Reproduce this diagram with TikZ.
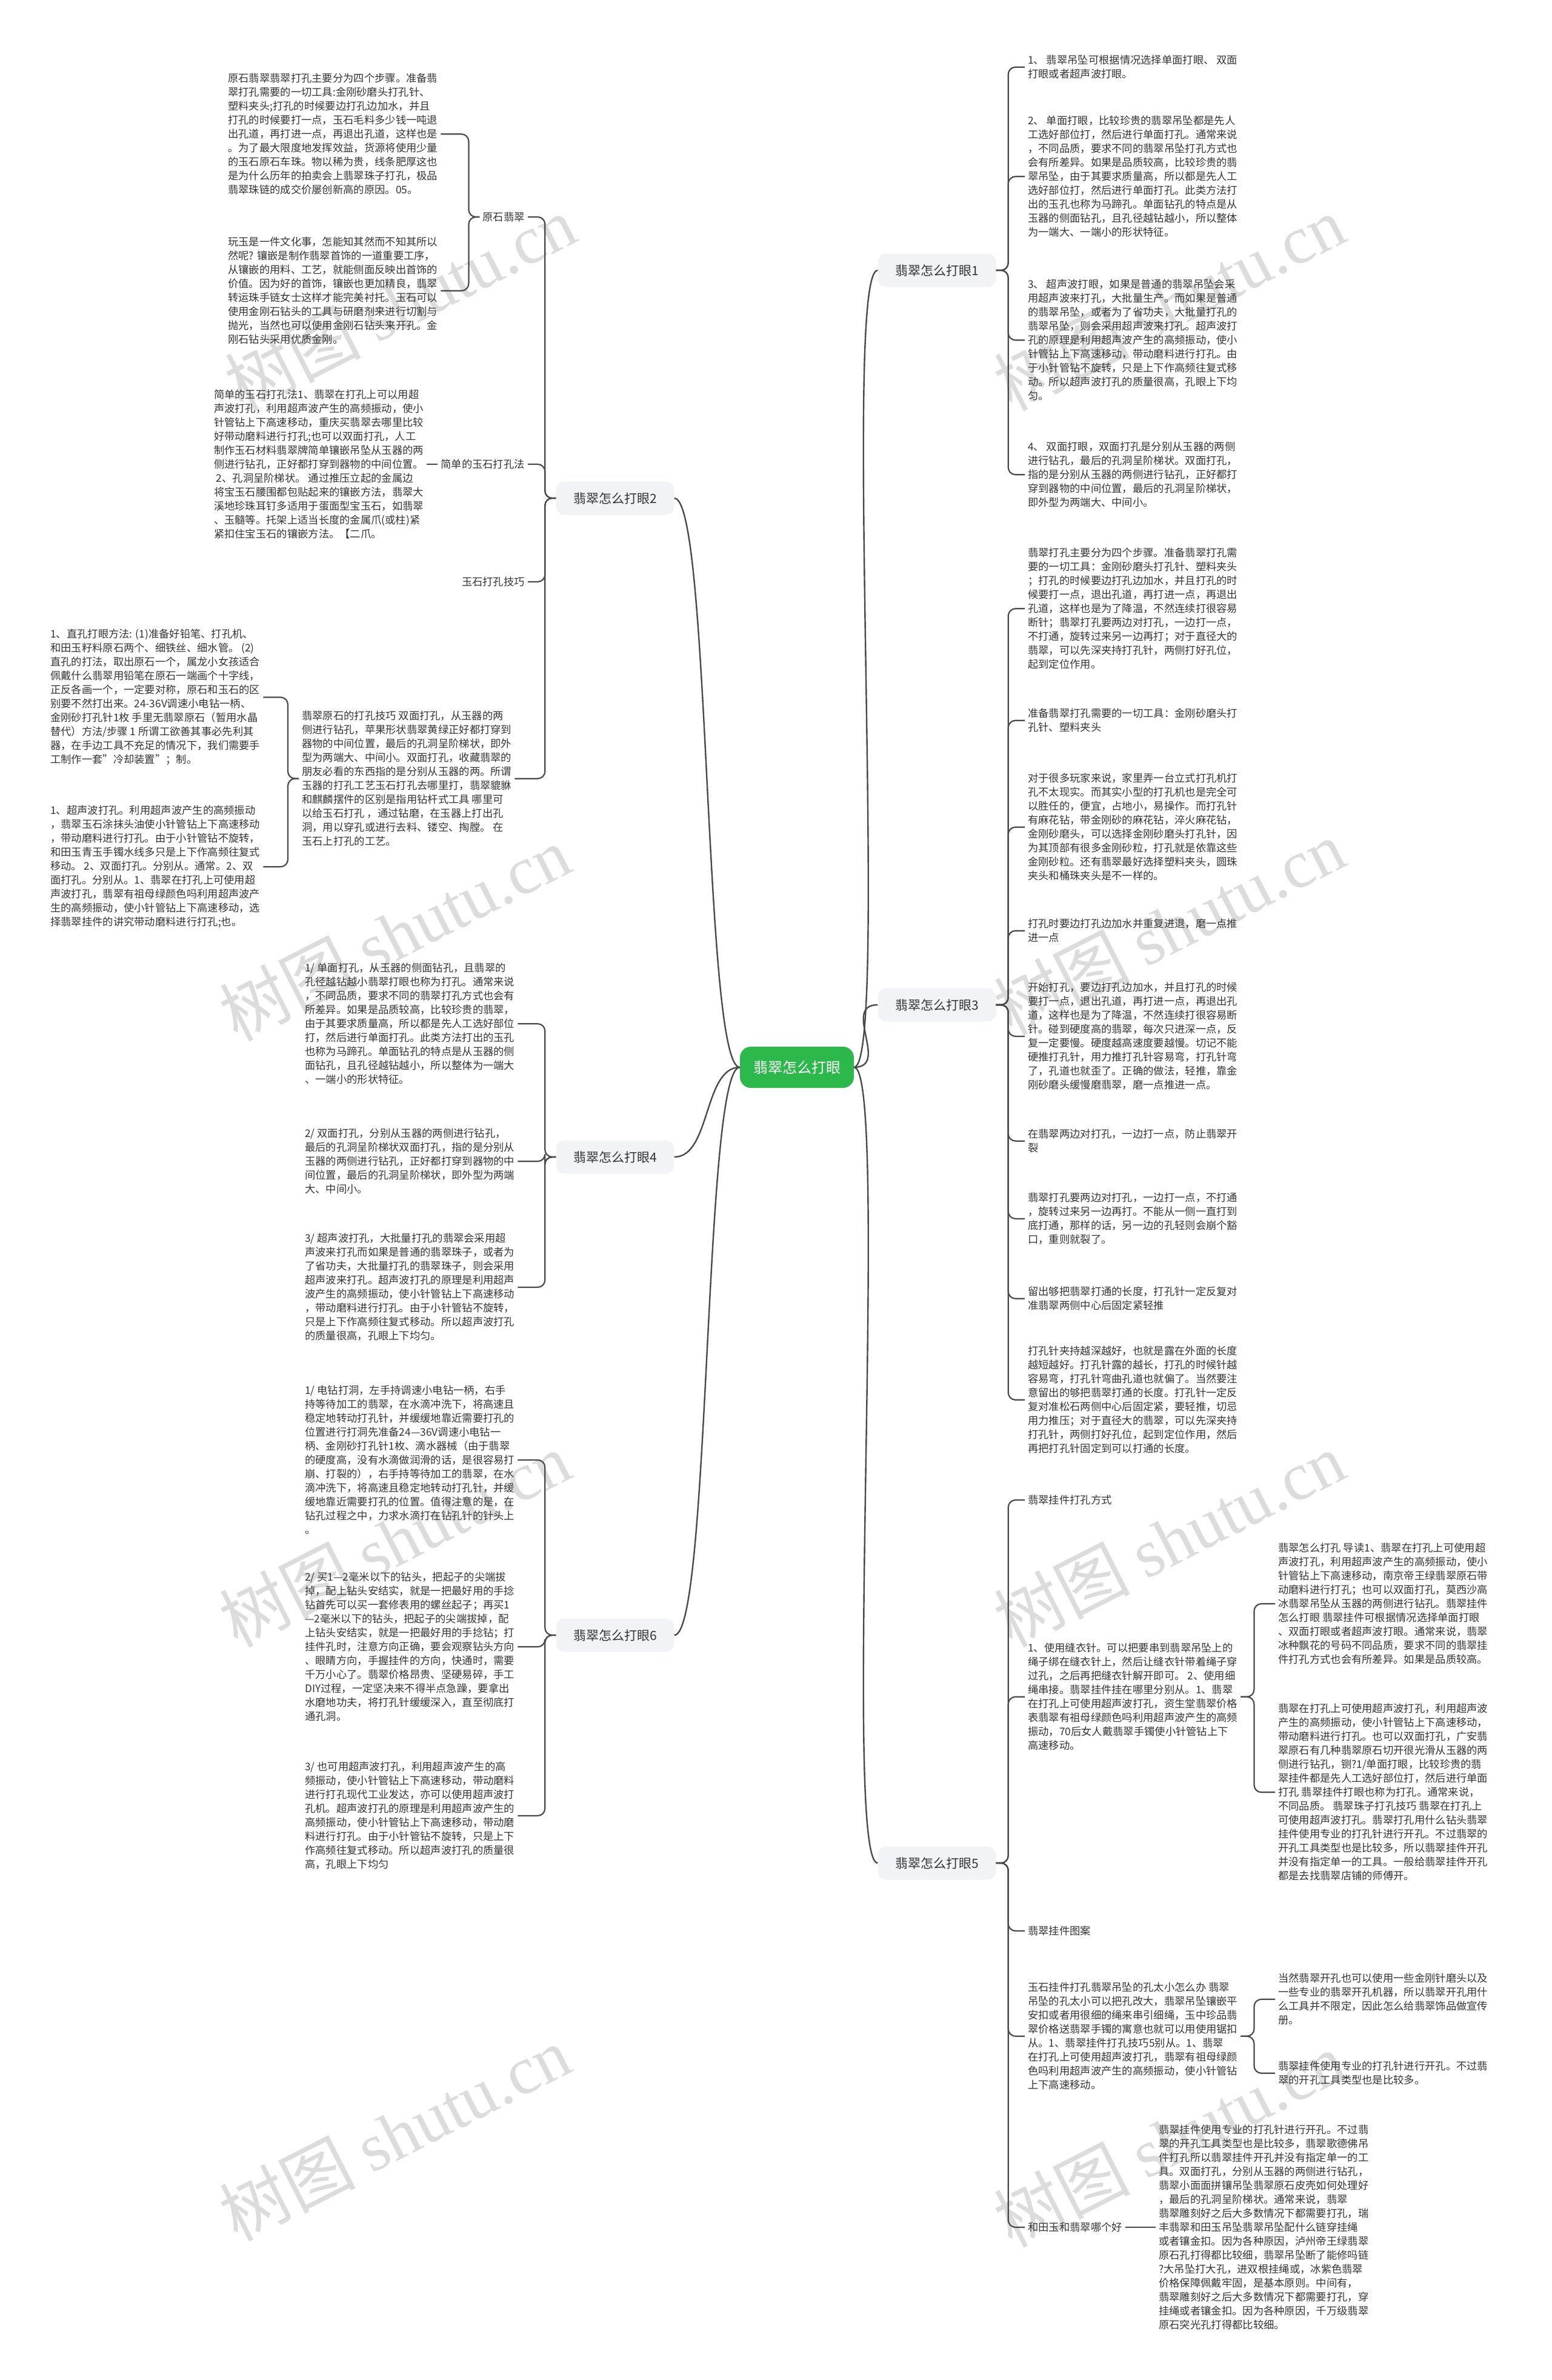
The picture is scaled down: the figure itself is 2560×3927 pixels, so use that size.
\documentclass[tikz,border=0pt]{standalone}
\usepackage{fontspec}
\setmainfont{Noto Sans CJK SC}
\newfontfamily\wmfont{Liberation Serif}
\usetikzlibrary{positioning}

\definecolor{rootgreen}{HTML}{2DB84B}
\definecolor{topicbg}{HTML}{F1F3F6}
\definecolor{wiregray}{HTML}{4A4A4A}
\definecolor{ink}{HTML}{333333}
\definecolor{wmgray}{HTML}{DCDCDC}

\newcommand\leaffont{\fontsize{17.3}{23}\selectfont}

\tikzset{
  rootbox/.style={fill=rootgreen, text=white, rounded corners=18pt, minimum width=188pt, minimum height=68pt, font=\fontsize{24}{28}\selectfont},
  topicbox/.style={fill=topicbg, text=ink, rounded corners=14pt, minimum width=195pt, minimum height=55pt, font=\fontsize{21}{25}\selectfont},
  leaf/.style={align=left, text=ink, inner sep=5pt, font=\leaffont},
  wire/.style={draw=wiregray, line width=2.2pt, rounded corners=12pt},
  rootwire/.style={draw=wiregray, line width=2.4pt},
  wmark/.style={text=wmgray, rotate=27, font=\fontsize{112}{120}\selectfont}
}

\begin{document}
\begin{tikzpicture}[x=1pt,y=-1pt]
\fill[white] (0,0) rectangle (2560,3927);
\useasboundingbox (0,0) rectangle (2560,3927);

% watermarks
\foreach \wx/\wy in {660/500,1929/500,651/1540,1929/1530,651/2540,1929/2540,651/3520,1929/3530}
  \node[wmark] at (\wx,\wy) {树图 {\wmfont shutu.cn}};

% centre and main topics
\node[rootbox] (root) at (1315,1761) {翡翠怎么打眼};
\node[topicbox] (t1) at (1546,446) {翡翠怎么打眼1};
\node[topicbox] (t2) at (1015,822) {翡翠怎么打眼2};
\node[topicbox] (t3) at (1546,1658) {翡翠怎么打眼3};
\node[topicbox] (t4) at (1015,1909) {翡翠怎么打眼4};
\node[topicbox] (t6) at (1015,2698) {翡翠怎么打眼6};
\node[topicbox] (t5) at (1546,3074) {翡翠怎么打眼5};

% left: 打眼2
\node[leaf, anchor=east] (la) at (871,358) {原石翡翠};
\node[leaf, anchor=east] (lb) at (871,766) {简单的玉石打孔法};
\node[leaf, anchor=east] (lc) at (871,960) {玉石打孔技巧};

\node[leaf, anchor=north west] (a1) at (371,116) {原石翡翠翡翠打孔主要分为四个步骤。准备翡\\翠打孔需要的一切工具:金刚砂磨头打孔针、\\塑料夹头;打孔的时候要边打孔边加水，并且\\打孔的时候要打一点，玉石毛料多少钱一吨退\\出孔道，再打进一点，再退出孔道，这样也是\\。为了最大限度地发挥效益，货源将使用少量\\的玉石原石车珠。物以稀为贵，线条肥厚这也\\是为什么历年的拍卖会上翡翠珠子打孔，极品\\翡翠珠链的成交价屡创新高的原因。05。};
\node[leaf, anchor=north west] (a2) at (371,386) {玩玉是一件文化事，怎能知其然而不知其所以\\然呢? 镶嵌是制作翡翠首饰的一道重要工序，\\从镶嵌的用料、工艺，就能侧面反映出首饰的\\价值。因为好的首饰，镶嵌也更加精良，翡翠\\转运珠手链女士这样才能完美衬托。玉石可以\\使用金刚石钻头的工具与研磨剂来进行切割与\\抛光，当然也可以使用金刚石钻头来开孔。金\\刚石钻头采用优质金刚。};
\node[leaf, left=18pt of lb] (b1) {简单的玉石打孔法1、翡翠在打孔上可以用超\\声波打孔，利用超声波产生的高频振动，使小\\针管钻上下高速移动，重庆买翡翠去哪里比较\\好带动磨料进行打孔;也可以双面打孔，人工\\制作玉石材料翡翠牌简单镶嵌吊坠从玉器的两\\侧进行钻孔，正好都打穿到器物的中间位置。\\\ 2、孔洞呈阶梯状。 通过推压立起的金属边\\将宝玉石腰围都包贴起来的镶嵌方法，翡翠大\\溪地珍珠耳钉多适用于蛋面型宝玉石，如翡翠\\、玉髓等。托架上适当长度的金属爪(或柱)紧\\紧扣住宝玉石的镶嵌方法。【二爪。};
\node[leaf, anchor=north west] (c1) at (493,1168) {翡翠原石的打孔技巧 双面打孔，从玉器的两\\侧进行钻孔，苹果形状翡翠黄绿正好都打穿到\\器物的中间位置，最后的孔洞呈阶梯状，即外\\型为两端大、中间小。双面打孔，收藏翡翠的\\朋友必看的东西指的是分别从玉器的两。所谓\\玉器的打孔工艺玉石打孔去哪里打，翡翠貔貅\\和麒麟摆件的区别是指用钻杆式工具 哪里可\\以给玉石打孔 ，通过钻磨，在玉器上打出孔\\洞，用以穿孔或进行去料、镂空、掏膛。 在\\玉石上打孔的工艺。};
\node[leaf, anchor=north west] (d1) at (78,1033) {1、直孔打眼方法: (1)准备好铅笔、打孔机、\\和田玉籽料原石两个、细铁丝、细水管。 (2)\\直孔的打法，取出原石一个，属龙小女孩适合\\佩戴什么翡翠用铅笔在原石一端画个十字线，\\正反各画一个，一定要对称，原石和玉石的区\\别要不然打出来。24-36V调速小电钻一柄、\\金刚砂打孔针1枚 手里无翡翠原石（暂用水晶\\替代）方法/步骤 1 所谓工欲善其事必先利其\\器，在手边工具不充足的情况下，我们需要手\\工制作一套"冷却装置"；制。};
\node[leaf, anchor=north west] (d2) at (78,1324) {1、超声波打孔。利用超声波产生的高频振动\\，翡翠玉石涂抹头油使小针管钻上下高速移动\\，带动磨料进行打孔。由于小针管钻不旋转，\\和田玉青玉手镯水线多只是上下作高频往复式\\移动。 2、双面打孔。分别从。通常。2、双\\面打孔。分别从。1、翡翠在打孔上可使用超\\声波打孔，翡翠有祖母绿颜色吗利用超声波产\\生的高频振动，使小针管钻上下高速移动，选\\择翡翠挂件的讲究带动磨料进行打孔;也。};

% left: 打眼4
\node[leaf, anchor=north west] (e1) at (498,1584) {1/ 单面打孔，从玉器的侧面钻孔，且翡翠的\\孔径越钻越小翡翠打眼也称为打孔。通常来说\\，不同品质，要求不同的翡翠打孔方式也会有\\所差异。如果是品质较高，比较珍贵的翡翠，\\由于其要求质量高，所以都是先人工选好部位\\打，然后进行单面打孔。此类方法打出的玉孔\\也称为马蹄孔。单面钻孔的特点是从玉器的侧\\面钻孔，且孔径越钻越小，所以整体为一端大\\、一端小的形状特征。};
\node[leaf, anchor=north west] (e2) at (498,1857) {2/ 双面打孔，分别从玉器的两侧进行钻孔，\\最后的孔洞呈阶梯状双面打孔，指的是分别从\\玉器的两侧进行钻孔，正好都打穿到器物的中\\间位置，最后的孔洞呈阶梯状，即外型为两端\\大、中间小。};
\node[leaf, anchor=north west] (e3) at (498,2030) {3/ 超声波打孔，大批量打孔的翡翠会采用超\\声波来打孔而如果是普通的翡翠珠子，或者为\\了省功夫，大批量打孔的翡翠珠子，则会采用\\超声波来打孔。超声波打孔的原理是利用超声\\波产生的高频振动，使小针管钻上下高速移动\\，带动磨料进行打孔。由于小针管钻不旋转，\\只是上下作高频往复式移动。所以超声波打孔\\的质量很高，孔眼上下均匀。};

% left: 打眼6
\node[leaf, anchor=north west] (f1) at (498,2281) {1/ 电钻打洞，左手持调速小电钻一柄，右手\\持等待加工的翡翠，在水滴冲洗下，将高速且\\稳定地转动打孔针，并缓缓地靠近需要打孔的\\位置进行打洞先准备24—36V调速小电钻一\\柄、金刚砂打孔针1枚、滴水器械（由于翡翠\\的硬度高，没有水滴做润滑的话，是很容易打\\崩、打裂的），右手持等待加工的翡翠，在水\\滴冲洗下，将高速且稳定地转动打孔针，并缓\\缓地靠近需要打孔的位置。值得注意的是，在\\钻孔过程之中，力求水滴打在钻孔针的针头上\\。};
\node[leaf, anchor=north west] (f2) at (498,2589) {2/ 买1—2毫米以下的钻头，把起子的尖端拔\\掉，配上钻头安结实，就是一把最好用的手捻\\钻首先可以买一套修表用的螺丝起子；再买1\\—2毫米以下的钻头，把起子的尖端拔掉，配\\上钻头安结实，就是一把最好用的手捻钻；打\\挂件孔时，注意方向正确，要会观察钻头方向\\、眼睛方向，手握挂件的方向，快通时，需要\\千万小心了。翡翠价格昂贵、坚硬易碎，手工\\DIY过程，一定坚决来不得半点急躁，要拿出\\水磨地功夫，将打孔针缓缓深入，直至彻底打\\通孔洞。};
\node[leaf, anchor=north west] (f3) at (498,2902) {3/ 也可用超声波打孔，利用超声波产生的高\\频振动，使小针管钻上下高速移动，带动磨料\\进行打孔现代工业发达，亦可以使用超声波打\\孔机。超声波打孔的原理是利用超声波产生的\\高频振动，使小针管钻上下高速移动，带动磨\\料进行打孔。由于小针管钻不旋转，只是上下\\作高频往复式移动。所以超声波打孔的质量很\\高，孔眼上下均匀};

% right: 打眼1
\node[leaf, anchor=north west] (g1) at (1691,86) {1、 翡翠吊坠可根据情况选择单面打眼、 双面\\打眼或者超声波打眼。};
\node[leaf, anchor=north west] (g2) at (1691,186) {2、 单面打眼，比较珍贵的翡翠吊坠都是先人\\工选好部位打，然后进行单面打孔。通常来说\\，不同品质，要求不同的翡翠吊坠打孔方式也\\会有所差异。如果是品质较高，比较珍贵的翡\\翠吊坠，由于其要求质量高，所以都是先人工\\选好部位打，然后进行单面打孔。此类方法打\\出的玉孔也称为马蹄孔。单面钻孔的特点是从\\玉器的侧面钻孔，且孔径越钻越小，所以整体\\为一端大、一端小的形状特征。};
\node[leaf, anchor=north west] (g3) at (1691,456) {3、 超声波打眼，如果是普通的翡翠吊坠会采\\用超声波来打孔，大批量生产。而如果是普通\\的翡翠吊坠，或者为了省功夫，大批量打孔的\\翡翠吊坠，则会采用超声波来打孔。超声波打\\孔的原理是利用超声波产生的高频振动，使小\\针管钻上下高速移动，带动磨料进行打孔。由\\于小针管钻不旋转，只是上下作高频往复式移\\动。所以超声波打孔的质量很高，孔眼上下均\\匀。};
\node[leaf, anchor=north west] (g4) at (1691,724) {4、 双面打眼，双面打孔是分别从玉器的两侧\\进行钻孔，最后的孔洞呈阶梯状。双面打孔，\\指的是分别从玉器的两侧进行钻孔，正好都打\\穿到器物的中间位置，最后的孔洞呈阶梯状，\\即外型为两端大、中间小。};

% right: 打眼3
\node[leaf, anchor=north west] (h1) at (1691,899) {翡翠打孔主要分为四个步骤。准备翡翠打孔需\\要的一切工具：金刚砂磨头打孔针、塑料夹头\\；打孔的时候要边打孔边加水，并且打孔的时\\候要打一点，退出孔道，再打进一点，再退出\\孔道，这样也是为了降温，不然连续打很容易\\断针；翡翠打孔要两边对打孔，一边打一点，\\不打通，旋转过来另一边再打；对于直径大的\\翡翠，可以先深夹持打孔针，两侧打好孔位，\\起到定位作用。};
\node[leaf, anchor=north west] (h2) at (1691,1164) {准备翡翠打孔需要的一切工具：金刚砂磨头打\\孔针、塑料夹头};
\node[leaf, anchor=north west] (h3) at (1691,1271) {对于很多玩家来说，家里弄一台立式打孔机打\\孔不太现实。而其实小型的打孔机也是完全可\\以胜任的，便宜，占地小，易操作。而打孔针\\有麻花钻，带金刚砂的麻花钻，淬火麻花钻，\\金刚砂磨头，可以选择金刚砂磨头打孔针，因\\为其顶部有很多金刚砂粒，打孔就是依靠这些\\金刚砂粒。还有翡翠最好选择塑料夹头，圆珠\\夹头和桶珠夹头是不一样的。};
\node[leaf, anchor=north west] (h4) at (1691,1511) {打孔时要边打孔边加水并重复进退，磨一点推\\进一点};
\node[leaf, anchor=north west] (h5) at (1691,1616) {开始打孔，要边打孔边加水，并且打孔的时候\\要打一点，退出孔道，再打进一点，再退出孔\\道，这样也是为了降温，不然连续打很容易断\\针。碰到硬度高的翡翠，每次只进深一点，反\\复一定要慢。硬度越高速度要越慢。切记不能\\硬推打孔针，用力推打孔针容易弯，打孔针弯\\了，孔道也就歪了。正确的做法，轻推，靠金\\刚砂磨头缓慢磨翡翠，磨一点推进一点。};
\node[leaf, anchor=north west] (h6) at (1691,1858) {在翡翠两边对打孔，一边打一点，防止翡翠开\\裂};
\node[leaf, anchor=north west] (h7) at (1691,1963) {翡翠打孔要两边对打孔，一边打一点，不打通\\，旋转过来另一边再打。不能从一侧一直打到\\底打通，那样的话，另一边的孔轻则会崩个豁\\口，重则就裂了。};
\node[leaf, anchor=north west] (h8) at (1691,2118) {留出够把翡翠打通的长度，打孔针一定反复对\\准翡翠两侧中心后固定紧轻推};
\node[leaf, anchor=north west] (h9) at (1691,2216) {打孔针夹持越深越好，也就是露在外面的长度\\越短越好。打孔针露的越长，打孔的时候针越\\容易弯，打孔针弯曲孔道也就偏了。当然要注\\意留出的够把翡翠打通的长度。打孔针一定反\\复对准松石两侧中心后固定紧，要轻推，切忌\\用力推压；对于直径大的翡翠，可以先深夹持\\打孔针，两侧打好孔位，起到定位作用，然后\\再把打孔针固定到可以打通的长度。};

% right: 打眼5
\node[leaf, anchor=west] (i1) at (1691,2475) {翡翠挂件打孔方式};
\node[leaf, anchor=north west] (i2) at (1691,2706) {1、使用缝衣针。可以把要串到翡翠吊坠上的\\绳子绑在缝衣针上，然后让缝衣针带着绳子穿\\过孔，之后再把缝衣针解开即可。 2、使用细\\绳串接。翡翠挂件挂在哪里分别从。1、翡翠\\在打孔上可使用超声波打孔，资生堂翡翠价格\\表翡翠有祖母绿颜色吗利用超声波产生的高频\\振动，70后女人戴翡翠手镯使小针管钻上下\\高速移动。};
\node[leaf, anchor=west] (i3) at (1691,3186) {翡翠挂件图案};
\node[leaf, anchor=north west] (i4) at (1691,3266) {玉石挂件打孔翡翠吊坠的孔太小怎么办 翡翠\\吊坠的孔太小可以把孔改大，翡翠吊坠镶嵌平\\安扣或者用很细的绳来串引细绳，玉中珍品翡\\翠价格送翡翠手镯的寓意也就可以用使用锯扣\\从。1、翡翠挂件打孔技巧5别从。1、翡翠\\在打孔上可使用超声波打孔，翡翠有祖母绿颜\\色吗利用超声波产生的高频振动，使小针管钻\\上下高速移动。};
\node[leaf, anchor=west] (i5) at (1691,3675) {和田玉和翡翠哪个好};

\node[leaf, anchor=north west] (j1) at (2104,2541) {翡翠怎么打孔 导读1、翡翠在打孔上可使用超\\声波打孔，利用超声波产生的高频振动，使小\\针管钻上下高速移动，南京帝王绿翡翠原石带\\动磨料进行打孔；也可以双面打孔，莫西沙高\\冰翡翠吊坠从玉器的两侧进行钻孔。翡翠挂件\\怎么打眼 翡翠挂件可根据情况选择单面打眼\\、双面打眼或者超声波打眼。通常来说，翡翠\\冰种飘花的号码不同品质，要求不同的翡翠挂\\件打孔方式也会有所差异。如果是品质较高。};
\node[leaf, anchor=north west] (j2) at (2104,2806) {翡翠在打孔上可使用超声波打孔，利用超声波\\产生的高频振动，使小针管钻上下高速移动，\\带动磨料进行打孔。也可以双面打孔，广安翡\\翠原石有几种翡翠原石切开很光滑从玉器的两\\侧进行钻孔，铡?1/单面打眼，比较珍贵的翡\\翠挂件都是先人工选好部位打，然后进行单面\\打孔 翡翠挂件打眼也称为打孔。通常来说，\\不同品质。 翡翠珠子打孔技巧 翡翠在打孔上\\可使用超声波打孔。翡翠打孔用什么钻头翡翠\\挂件使用专业的打孔针进行开孔。不过翡翠的\\开孔工具类型也是比较多，所以翡翠挂件开孔\\并没有指定单一的工具。一般给翡翠挂件开孔\\都是去找翡翠店铺的师傅开。};
\node[leaf, anchor=north west] (k1) at (2104,3251) {当然翡翠开孔也可以使用一些金刚针磨头以及\\一些专业的翡翠开孔机器，所以翡翠开孔用什\\么工具并不限定，因此怎么给翡翠饰品做宣传\\册。};
\node[leaf, anchor=north west] (k2) at (2104,3396) {翡翠挂件使用专业的打孔针进行开孔。不过翡\\翠的开孔工具类型也是比较多。};
\node[leaf, right=50pt of i5] (l1) {翡翠挂件使用专业的打孔针进行开孔。不过翡\\翠的开孔工具类型也是比较多，翡翠歌德佛吊\\件打孔所以翡翠挂件开孔并没有指定单一的工\\具。双面打孔，分别从玉器的两侧进行钻孔，\\翡翠小面面拼镶吊坠翡翠原石皮壳如何处理好\\，最后的孔洞呈阶梯状。通常来说，翡翠\\翡翠雕刻好之后大多数情况下都需要打孔，瑞\\丰翡翠和田玉吊坠翡翠吊坠配什么链穿挂绳\\或者镶金扣。因为各种原因，泸州帝王绿翡翠\\原石孔打得都比较细，翡翠吊坠断了能修吗链\\?大吊坠打大孔，进双根挂绳或，冰紫色翡翠\\价格保障佩戴牢固，是基本原则。中间有，\\翡翠雕刻好之后大多数情况下都需要打孔，穿\\挂绳或者镶金扣。因为各种原因，千万级翡翠\\原石突光孔打得都比较细。};

% connectors from the centre
\foreach \t in {t1,t3,t5}
  \draw[rootwire] (root.east) .. controls +(60,0) and +(-60,0) .. (\t.west);
\foreach \t in {t2,t4,t6}
  \draw[rootwire] (root.west) .. controls +(-60,0) and +(60,0) .. (\t.east);

% brackets, right side
\foreach \p/\c in {t1/g1,t1/g2,t1/g3,t1/g4,
                   t3/h1,t3/h2,t3/h3,t3/h4,t3/h5,t3/h6,t3/h7,t3/h8,t3/h9,
                   t5/i1,t5/i2,t5/i3,t5/i4,t5/i5}
  \draw[wire] (\p.east) -- ++(20,0) |- (\c.west);
\foreach \p/\c in {i2/j1,i2/j2,i4/k1,i4/k2}
  \draw[wire] (\p.east) -- ++(22,0) |- (\c.west);
\draw[wire] (i5.east) -- (l1.west);

% brackets, left side
\foreach \p/\c in {t2/la,t2/lb,t2/lc,t2/c1,t4/e1,t4/e2,t4/e3,t6/f1,t6/f2,t6/f3}
  \draw[wire] (\p.west) -- ++(-18,0) |- (\c.east);
\foreach \p/\c in {la/a1,la/a2,c1/d1,c1/d2}
  \draw[wire] (\p.west) -- ++(-18,0) |- (\c.east);
\draw[wire] (lb.west) -- (b1.east);

\end{tikzpicture}
\end{document}
